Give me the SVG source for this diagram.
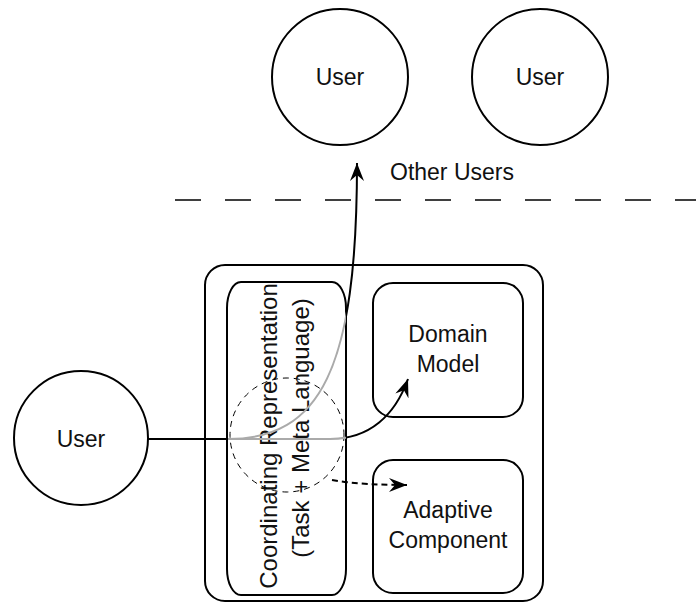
<svg xmlns="http://www.w3.org/2000/svg" width="696" height="607" viewBox="0 0 696 607">
<style>
.node{fill:#fff;stroke:#000;stroke-width:2}
.lbl{font-family:"Liberation Sans",Arial,sans-serif;font-size:23px;fill:#111;text-anchor:middle}
.conn{fill:none;stroke:#000;stroke-width:2}
.gray{stroke:#aaa}
</style>
<defs>
<marker id="ah" markerWidth="18" markerHeight="14" viewBox="-18 -7 18 14" refX="0" refY="0" orient="auto" markerUnits="userSpaceOnUse">
<path d="M0,0 L-18,-7 L-12,0 L-18,7 Z" fill="#000"/>
</marker>
<clipPath id="inPill"><rect x="228" y="282" width="118" height="313"/></clipPath>
<clipPath id="outPill"><path clip-rule="evenodd" d="M0 0 H696 V607 H0 Z M228 282 H346 V595 H228 Z"/></clipPath>
</defs>
<rect width="696" height="607" fill="#fff"/>
<line x1="175" y1="200" x2="696" y2="200" stroke="#000" stroke-width="1.6" stroke-dasharray="26 24"/>
<text class="lbl" x="390" y="180" style="text-anchor:start">Other Users</text>
<g id="user-top-left"><circle class="node" cx="340" cy="77" r="68"/><text class="lbl" x="340" y="85">User</text></g>
<g id="user-top-right"><circle class="node" cx="540" cy="77" r="68"/><text class="lbl" x="540" y="85">User</text></g>
<g id="system"><rect class="node" x="205" y="265" width="338" height="336" rx="20" ry="20"/></g>
<g id="coordinating"><rect class="node" x="227" y="282" width="119" height="313" rx="14" ry="26"/>
<text class="lbl" style="font-size:24px" transform="translate(277 436) rotate(-90)" x="0" y="0">Coordinating Representation</text>
<text class="lbl" style="font-size:24px" transform="translate(309 428) rotate(-90)" x="0" y="0">(Task + Meta Language)</text></g>
<g id="domain"><rect class="node" x="373" y="283" width="150" height="134" rx="20" ry="20"/><text class="lbl" x="448" y="342">Domain</text><text class="lbl" x="448" y="372">Model</text></g>
<g id="adaptive"><rect class="node" x="373" y="460" width="150" height="133" rx="20" ry="20"/><text class="lbl" x="448" y="518">Adaptive</text><text class="lbl" x="448" y="548">Component</text></g>
<g id="user-left"><circle class="node" cx="81" cy="438" r="67"/><text class="lbl" x="81" y="447">User</text></g>
<g id="connectors">
<circle cx="287" cy="435" r="57" fill="none" stroke="#000" stroke-width="1" stroke-dasharray="6 5"/>
<g clip-path="url(#outPill)">
<path class="conn" d="M148 439 L228 439 C320 439 357 370 357 163" marker-end="url(#ah)"/>
<path class="conn" d="M228 439 L330 439 C370 439 395 415 408 379" marker-end="url(#ah)"/>
</g>
<g clip-path="url(#inPill)">
<path class="conn gray" d="M148 439 L228 439 C320 439 357 370 357 163"/>
<path class="conn gray" d="M228 439 L330 439 C370 439 395 415 408 379"/>
</g>
<path class="conn" d="M332 480 C355 484 380 485 407 485" stroke-dasharray="6 4" marker-end="url(#ah)"/>
</g>
</svg>
